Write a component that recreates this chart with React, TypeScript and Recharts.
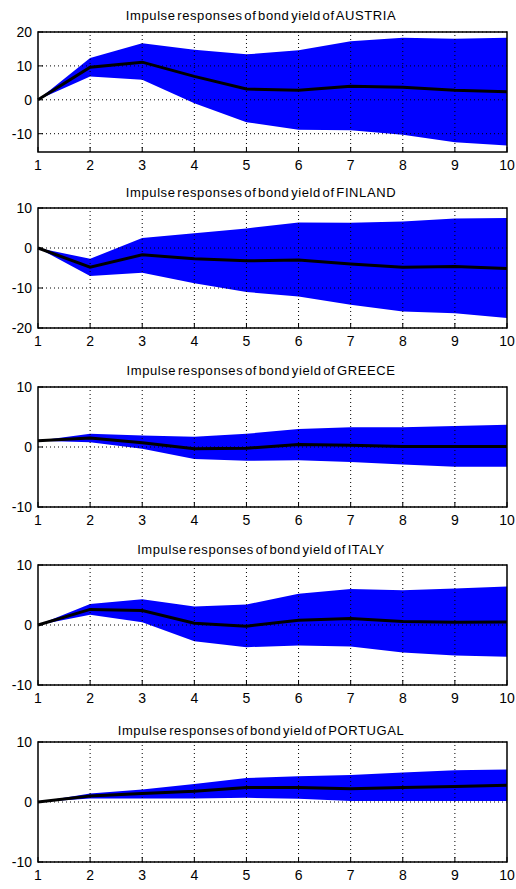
import React from "react";
import {
  Area,
  ComposedChart,
  Line,
  ReferenceArea,
  ReferenceLine,
  XAxis,
  YAxis,
} from "recharts";

const horizons = [1, 2, 3, 4, 5, 6, 7, 8, 9, 10];

const austriaMean = [0, 9.6, 11.1, 6.9, 3.2, 2.8, 4.0, 3.7, 2.8, 2.4];
const austriaUpper = [0, 12.3, 16.7, 14.8, 13.4, 14.6, 17.3, 18.3, 18.0, 18.3];
const austriaLower = [0, 6.9, 5.9, -1.0, -6.6, -8.8, -9.0, -10.3, -12.5, -13.5];

const finlandMean = [0, -4.8, -1.7, -2.7, -3.2, -3.0, -4.0, -4.8, -4.6, -5.1];
const finlandUpper = [0, -2.7, 2.5, 3.7, 4.9, 6.4, 6.3, 6.6, 7.4, 7.5];
const finlandLower = [0, -7.0, -6.2, -8.8, -11.0, -12.1, -14.2, -15.9, -16.3, -17.5];

const greeceMean = [1.05, 1.5, 0.7, -0.3, -0.2, 0.4, 0.3, 0.1, 0.1, 0.1];
const greeceUpper = [1.05, 2.2, 1.9, 1.7, 2.2, 3.0, 3.3, 3.3, 3.5, 3.7];
const greeceLower = [1.05, 0.8, -0.3, -2.0, -2.3, -2.2, -2.5, -2.9, -3.3, -3.3];

const italyMean = [0, 2.6, 2.4, 0.3, -0.2, 0.8, 1.1, 0.6, 0.45, 0.5];
const italyUpper = [0, 3.5, 4.3, 3.1, 3.4, 5.2, 6.0, 5.8, 6.1, 6.4];
const italyLower = [0, 1.7, 0.45, -2.7, -3.7, -3.4, -3.6, -4.6, -5.1, -5.3];

const portugalMean = [0, 1.0, 1.4, 1.8, 2.4, 2.4, 2.2, 2.4, 2.6, 2.8];
const portugalUpper = [0, 1.4, 2.1, 3.0, 4.0, 4.3, 4.5, 4.9, 5.3, 5.4];
const portugalLower = [0, 0.6, 0.6, 0.6, 0.7, 0.55, 0.15, 0.15, 0.15, 0.15];

const panels = [
  { country: "AUSTRIA", mean: austriaMean, upper: austriaUpper, lower: austriaLower, domain: [-15.4, 20], ticks: [-10, 0, 10, 20], plotTop: 32, titleY: 15 },
  { country: "FINLAND", mean: finlandMean, upper: finlandUpper, lower: finlandLower, domain: [-20, 10], ticks: [-20, -10, 0, 10], plotTop: 208, titleY: 192 },
  { country: "GREECE", mean: greeceMean, upper: greeceUpper, lower: greeceLower, domain: [-10, 10], ticks: [-10, 0, 10], plotTop: 387, titleY: 370 },
  { country: "ITALY", mean: italyMean, upper: italyUpper, lower: italyLower, domain: [-10, 10], ticks: [-10, 0, 10], plotTop: 565, titleY: 549 },
  { country: "PORTUGAL", mean: portugalMean, upper: portugalUpper, lower: portugalLower, domain: [-10, 10], ticks: [-10, 0, 10], plotTop: 742, titleY: 730 },
];

const font = "'Liberation Sans', Arial, Helvetica, sans-serif";
const tickStyle = { fontSize: 14, fill: "#000", fontFamily: font };
const tickLineStyle = { stroke: "#000", strokeWidth: 1 };
const gridDash = "1 3";

const Panel = ({ p }: { p: (typeof panels)[number] }) => {
  const data = horizons.map((h, i) => ({
    x: h,
    mean: p.mean[i],
    band: [p.lower[i], p.upper[i]],
  }));
  return (
    <>
      <div
        style={{
          position: "absolute",
          left: 261,
          top: p.titleY,
          transform: "translate(-50%, -50%)",
          whiteSpace: "nowrap",
          fontFamily: font,
          fontSize: 13,
          letterSpacing: 0.6,
          wordSpacing: -2.5,
          color: "#000",
        }}
      >
        Impulse responses of bond yield of {p.country}
      </div>
      <div style={{ position: "absolute", left: 0, top: p.plotTop - 10 }}>
        <ComposedChart
          width={516}
          height={154}
          data={data}
          margin={{ top: 10, right: 9, left: 8, bottom: 0 }}
        >
          <XAxis
            dataKey="x"
            type="number"
            domain={[1, 10]}
            ticks={horizons}
            tick={tickStyle}
            tickLine={tickLineStyle}
            tickSize={-5}
            tickMargin={13}
            axisLine={false}
            height={24}
            interval={0}
          />
          <XAxis
            xAxisId="top"
            orientation="top"
            type="number"
            domain={[1, 10]}
            ticks={horizons}
            tick={false}
            tickLine={tickLineStyle}
            tickSize={-5}
            axisLine={false}
            height={0}
            interval={0}
          />
          <YAxis
            type="number"
            domain={p.domain}
            ticks={p.ticks}
            tick={tickStyle}
            tickLine={tickLineStyle}
            tickSize={-5}
            tickMargin={11}
            axisLine={false}
            width={30}
            allowDataOverflow
            interval={0}
          />
          <YAxis
            yAxisId="right"
            orientation="right"
            type="number"
            domain={p.domain}
            ticks={p.ticks}
            tick={false}
            tickLine={tickLineStyle}
            tickSize={-5}
            axisLine={false}
            width={0}
            allowDataOverflow
            interval={0}
          />
          <Area
            dataKey="band"
            type="linear"
            fill="#0000ff"
            fillOpacity={1}
            stroke="none"
            isAnimationActive={false}
          />
          {horizons.slice(1, -1).map((h) => (
            <ReferenceLine key={"v" + h} x={h} stroke="#000" strokeDasharray={gridDash} />
          ))}
          {p.ticks.map((t) => (
            <ReferenceLine key={"h" + t} y={t} stroke="#000" strokeDasharray={gridDash} />
          ))}
          <Line
            dataKey="mean"
            type="linear"
            stroke="#000"
            strokeWidth={3}
            dot={false}
            isAnimationActive={false}
          />
          <ReferenceArea
            x1={1}
            x2={10}
            y1={p.domain[0]}
            y2={p.domain[1]}
            fill="none"
            stroke="#000"
            strokeWidth={1.5}
          />
        </ComposedChart>
      </div>
    </>
  );
};

const App = () => {
  return (
    <div
      style={{
        position: "absolute",
        left: 0,
        top: 0,
        width: 516,
        height: 889,
        background: "#fff",
      }}
    >
      {panels.map((p) => (
        <Panel key={p.country} p={p} />
      ))}
    </div>
  );
};

export default App;
